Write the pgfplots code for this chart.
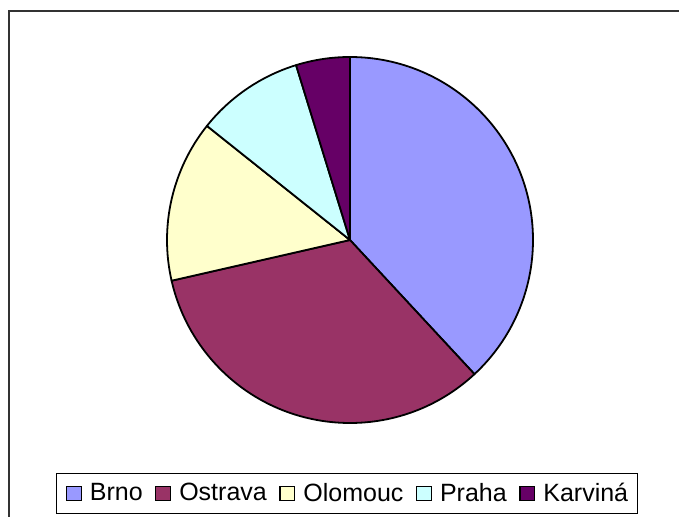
\documentclass[border=0pt]{standalone}
\usepackage{pgfplots}
\pgfplotsset{compat=1.18}
\usepackage{pgfplotstable}
\usepackage{fontspec}
\setmainfont{Liberation Sans}
\definecolor{pie0}{HTML}{9999FF}
\definecolor{pie1}{HTML}{993366}
\definecolor{pie2}{HTML}{FFFFCC}
\definecolor{pie3}{HTML}{CCFFFF}
\definecolor{pie4}{HTML}{660066}

\pgfplotstableread{
city value
Brno 8
Ostrava 7
Olomouc 3
Praha 2
Karvina 1
}\piedata

% total
\gdef\total{0}%
\pgfplotstableforeachcolumnelement{value}\of\piedata\as\v{%
  \pgfmathsetmacro\tmp{\total+\v}\xdef\total{\tmp}}%
% angles (start at 12 o'clock, clockwise)
\gdef\cum{0}%
\pgfplotstableforeachcolumnelement{value}\of\piedata\as\v{%
  \pgfmathsetmacro\sa{90-360*\cum/\total}%
  \pgfmathsetmacro\cumn{\cum+\v}%
  \pgfmathsetmacro\ea{90-360*\cumn/\total}%
  \expandafter\xdef\csname sa\pgfplotstablerow\endcsname{\sa}%
  \expandafter\xdef\csname ea\pgfplotstablerow\endcsname{\ea}%
  \xdef\cum{\cumn}}%

\begin{document}%
\begin{tikzpicture}[x=1pt,y=1pt]
\path[use as bounding box] (0,0) rectangle (339.5,-258.5);
\draw[line width=0.9pt, black!80] (4.6,-260) -- (4.6,-5.5) -- (341,-5.5);
\begin{axis}[
  at={(175pt,-120pt)}, anchor=center,
  scale only axis, width=183pt, height=183pt,
  xmin=-1, xmax=1, ymin=-1, ymax=1,
  enlargelimits=false, hide axis, clip=false,
  legend image code/.code={\draw[#1] (0pt,-3.6pt) rectangle (7.4pt,3.6pt);},
  legend columns=5,
  legend style={at={(0.4918,-0.1926)}, anchor=center, draw=black, line width=0.6pt,
    font=\fontsize{12.5}{14}\selectfont, inner xsep=4.5pt, inner ysep=4.5pt,
    nodes={inner sep=0pt},
    /tikz/every odd column/.append style={column sep=4pt},
    /tikz/every even column/.append style={column sep=6.3pt}},
]
\pgfplotsforeachungrouped \i in {0,...,4}{%
  \edef\temp{\noexpand\filldraw[fill=pie\i, draw=black, line width=0.9pt, line join=round]
    (axis cs:0,0) -- (axis cs:{cos(\csname sa\i\endcsname)},{sin(\csname sa\i\endcsname)})
    arc[start angle=\csname sa\i\endcsname, end angle=\csname ea\i\endcsname, radius=91.5pt] -- cycle;}%
  \temp}
\addlegendimage{fill=pie0, draw=black, line width=0.6pt}
\addlegendentry{Brno}
\addlegendimage{fill=pie1, draw=black, line width=0.6pt}
\addlegendentry{Ostrava}
\addlegendimage{fill=pie2, draw=black, line width=0.6pt}
\addlegendentry{Olomouc}
\addlegendimage{fill=pie3, draw=black, line width=0.6pt}
\addlegendentry{Praha}
\addlegendimage{fill=pie4, draw=black, line width=0.6pt}
\addlegendentry{Karviná}
\end{axis}
\end{tikzpicture}%
\end{document}
